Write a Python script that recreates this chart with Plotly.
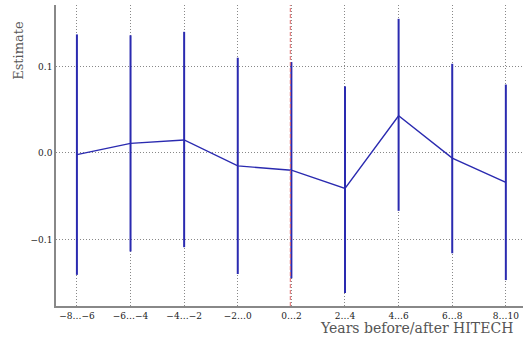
import plotly.graph_objects as go

categories = ["−8…−6", "−6…−4", "−4…−2", "−2…0", "0…2", "2…4", "4…6", "6…8", "8…10"]
estimates = [-0.002, 0.011, 0.015, -0.015, -0.020, -0.041, 0.043, -0.006, -0.034]
ci_upper = [0.137, 0.136, 0.140, 0.110, 0.105, 0.077, 0.155, 0.103, 0.079]
ci_lower = [-0.141, -0.114, -0.109, -0.140, -0.145, -0.162, -0.067, -0.116, -0.147]
y_tickvals = [-0.1, 0.0, 0.1]
y_ticktext = ["−0.1", "0.0", "0.1"]

xs = list(range(len(categories)))
blue = "#2a2ab0"
font_family = "DejaVu Serif"
grid_dash = "1px,2px"

fig = go.Figure()
fig.add_trace(go.Scatter(
    x=xs, y=estimates, mode="lines",
    line=dict(color=blue, width=1.4),
    error_y=dict(type="data", symmetric=False,
                 array=[u - e for u, e in zip(ci_upper, estimates)],
                 arrayminus=[e - l for e, l in zip(estimates, ci_lower)],
                 color=blue, thickness=2, width=0),
    showlegend=False, hoverinfo="skip"))

fig.add_shape(type="line", xref="x", yref="paper", x0=3.98, x1=3.98, y0=0, y1=1,
              line=dict(color="#e06666", width=1, dash="4px,2px"))

fig.update_layout(
    width=523, height=346,
    margin=dict(l=56, r=0, t=5, b=40, autoexpand=False),
    plot_bgcolor="white", paper_bgcolor="white",
    font=dict(family=font_family, size=9, color="#222222"),
    xaxis=dict(range=[-0.39, 8.32], tickvals=xs, ticktext=categories,
               showgrid=True, gridcolor="#888888", griddash=grid_dash, gridwidth=1,
               showline=True, linecolor="#888888", linewidth=1.5,
               zeroline=False, ticks="", automargin=False,
               tickfont=dict(size=9, color="#222222")),
    yaxis=dict(range=[-0.177, 0.171], tickvals=y_tickvals, ticktext=y_ticktext,
               showgrid=True, gridcolor="#888888", griddash=grid_dash, gridwidth=1,
               showline=True, linecolor="#888888", linewidth=1.5,
               zeroline=False, ticks="", automargin=False,
               tickfont=dict(size=9, color="#222222")),
    annotations=[
        dict(text="Estimate", xref="paper", yref="paper", x=-0.082, y=0.85,
             textangle=-90, showarrow=False, xanchor="center", yanchor="middle",
             font=dict(size=13, color="#555555")),
        dict(text="Years before/after HITECH", xref="paper", yref="paper",
             x=0.983, y=-0.04, showarrow=False, xanchor="right", yanchor="top",
             font=dict(size=14, color="#555555")),
    ],
)

fig.write_html("out.html", config={"displayModeBar": False},
               post_script="document.body.style.margin='0';")
